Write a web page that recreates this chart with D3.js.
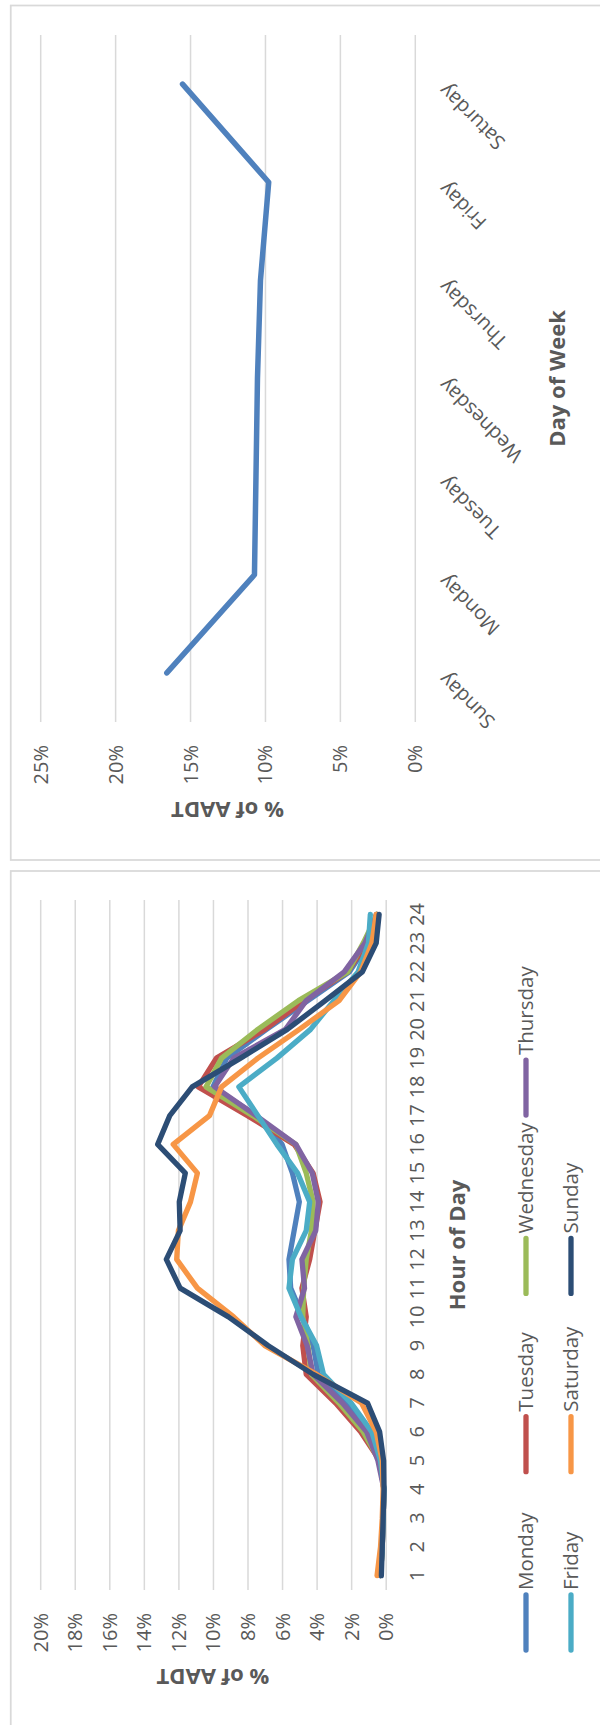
<!DOCTYPE html>
<html>
<head>
<meta charset="utf-8">
<script src="https://cdn.jsdelivr.net/npm/d3@7"></script>
<style>
  html, body { margin: 0; padding: 0; background: #fff; }
  svg { display: block; }
  text { font-family: "Open Sans", "Noto Sans", sans-serif; fill: #595959; }
</style>
</head>
<body>
<script>
// ---- Daily share of AADT ----
const days = ["Sunday", "Monday", "Tuesday", "Wednesday", "Thursday", "Friday", "Saturday"];
const dayShare = [16.55, 10.7, 10.6, 10.5, 10.3, 9.75, 15.5];
const dayTicks = [0, 5, 10, 15, 20, 25];

// ---- Hourly share of AADT ----
const hours = ["1","2","3","4","5","6","7","8","9","10","11","12",
               "13","14","15","16","17","18","19","20","21","22","23","24"];
const hourTicks = [0, 2, 4, 6, 8, 10, 12, 14, 16, 18, 20];
const seriesNames = ["Monday", "Tuesday", "Wednesday", "Thursday", "Friday", "Saturday", "Sunday"];
const seriesColors = ["#4F81BD", "#C0504D", "#9BBB59", "#8064A2", "#4BACC6", "#F79646", "#2C4D75"];
const monday    = [0.3, 0.2, 0.15, 0.1, 0.35, 0.9, 2.3, 3.9, 4.2, 4.8, 5.5, 5.6, 5.3, 5.0, 5.4, 6.0, 7.5, 10.0, 9.2, 6.9, 4.5, 2.1, 1.0, 0.55];
const tuesday   = [0.3, 0.2, 0.15, 0.1, 0.35, 1.45, 2.9, 4.6, 4.8, 4.6, 4.85, 4.4, 4.1, 3.8, 4.2, 5.3, 8.0, 10.85, 9.8, 7.0, 4.7, 2.2, 1.1, 0.5];
const wednesday = [0.3, 0.2, 0.15, 0.1, 0.35, 1.3, 2.7, 4.3, 4.5, 4.8, 4.75, 4.6, 4.3, 4.2, 4.6, 5.2, 7.7, 10.4, 9.5, 7.4, 5.05, 2.2, 1.3, 0.5];
const thursday  = [0.35, 0.2, 0.15, 0.1, 0.45, 1.1, 2.5, 4.2, 4.55, 5.2, 4.7, 4.85, 4.05, 3.9, 4.25, 5.2, 7.5, 9.9, 8.8, 5.8, 4.6, 2.4, 1.2, 0.5];
const friday    = [0.3, 0.2, 0.15, 0.1, 0.3, 0.8, 2.0, 3.6, 4.0, 4.9, 5.6, 5.4, 4.6, 4.4, 5.1, 6.3, 7.4, 8.5, 6.3, 4.35, 3.0, 1.6, 1.0, 0.89];
const saturday  = [0.5, 0.3, 0.2, 0.15, 0.2, 0.55, 1.4, 4.0, 7.0, 8.8, 10.9, 12.1, 12.0, 11.3, 10.9, 12.3, 10.2, 9.5, 7.4, 5.0, 2.7, 1.45, 0.8, 0.55];
const sunday    = [0.25, 0.2, 0.15, 0.1, 0.12, 0.35, 1.05, 4.2, 6.8, 9.1, 11.9, 12.7, 11.9, 11.95, 11.6, 13.2, 12.5, 11.2, 8.4, 5.7, 3.5, 1.35, 0.55, 0.38];
const hourly = [monday, tuesday, wednesday, thursday, friday, saturday, sunday];

const GRID = "#D9D9D9";
const TEXT = "#595959";

const svg = d3.select("body").append("svg")
  .attr("width", 600).attr("height", 1725);

// chart frames
svg.append("rect").attr("x", 10.75).attr("y", 5.5).attr("width", 700).attr("height", 854.5)
  .attr("fill", "none").attr("stroke", GRID).attr("stroke-width", 1.75);
svg.append("rect").attr("x", 10.75).attr("y", 871).attr("width", 700).attr("height", 900)
  .attr("fill", "none").attr("stroke", GRID).attr("stroke-width", 1.75);

function styleValueAxis(g) {
  g.attr("font-size", 20).attr("font-family", null);
  g.select(".domain").remove();
  g.selectAll(".tick line").attr("stroke", GRID).attr("stroke-width", 1.5);
  g.selectAll(".tick text")
    .attr("x", 0).attr("y", 0).attr("dy", "0.35em")
    .attr("text-anchor", "end")
    .attr("fill", TEXT)
    .attr("transform", "translate(0,23) rotate(-90)");
}

// ================= Day of week chart =================
const xTop = d3.scaleLinear().domain([0, 25]).range([414.8, 40.2]);
const yTop = d3.scaleBand().domain(days).range([722, 35]);

svg.append("g")
  .attr("transform", "translate(0,722)")
  .call(d3.axisBottom(xTop).tickValues(dayTicks).tickSize(-(722 - 35)).tickFormat(d => d + "%"))
  .call(styleValueAxis);

svg.append("g")
  .attr("transform", "translate(446,0)")
  .call(d3.axisRight(yTop).tickSize(0))
  .call(g => {
    g.attr("font-size", 20).attr("font-family", null);
    g.select(".domain").remove();
    g.selectAll(".tick text")
      .attr("x", 0).attr("y", 0).attr("dy", "0.1em")
      .attr("text-anchor", "end").attr("fill", TEXT)
      .attr("transform", "rotate(-135)");
  });

const dayLine = d3.line()
  .x(d => xTop(d.v))
  .y(d => yTop(d.day) + yTop.bandwidth() / 2);

svg.append("path")
  .datum(days.map((day, i) => ({ day, v: dayShare[i] })))
  .attr("d", dayLine)
  .attr("fill", "none")
  .attr("stroke", "#4F81BD")
  .attr("stroke-width", 5.5)
  .attr("stroke-linejoin", "round")
  .attr("stroke-linecap", "round");

svg.append("text")
  .attr("transform", "translate(557,378.5) rotate(-90)")
  .attr("text-anchor", "middle").attr("dy", "0.35em")
  .attr("font-size", 22).attr("font-weight", "bold")
  .text("Day of Week");

svg.append("text")
  .attr("transform", `translate(${(xTop(0) + xTop(25)) / 2},810) rotate(180)`)
  .attr("text-anchor", "middle").attr("dy", "0.35em")
  .attr("font-size", 22).attr("font-weight", "bold")
  .text("% of AADT");

// ================= Hour of day chart =================
const xBot = d3.scaleLinear().domain([0, 20]).range([385.7, 40.2]);
const yBot = d3.scaleBand().domain(hours).range([1590, 900]);

svg.append("g")
  .attr("transform", "translate(0,1590)")
  .call(d3.axisBottom(xBot).tickValues(hourTicks).tickSize(-(1590 - 900)).tickFormat(d => d + "%"))
  .call(styleValueAxis);

svg.append("g")
  .attr("transform", "translate(417,0)")
  .call(d3.axisRight(yBot).tickSize(0))
  .call(g => {
    g.attr("font-size", 20).attr("font-family", null);
    g.select(".domain").remove();
    g.selectAll(".tick text")
      .attr("x", 0).attr("y", 0).attr("dy", "0.35em")
      .attr("text-anchor", "middle").attr("fill", TEXT)
      .attr("transform", "rotate(-90)");
  });

const hourLine = d3.line()
  .x(d => xBot(d.v))
  .y(d => yBot(d.h) + yBot.bandwidth() / 2);

svg.append("g").selectAll("path")
  .data(hourly.map((vals, s) => ({ s, pts: hours.map((h, i) => ({ h, v: vals[i] })) })))
  .join("path")
  .attr("d", d => hourLine(d.pts))
  .attr("fill", "none")
  .attr("stroke", d => seriesColors[d.s])
  .attr("stroke-width", 5.3)
  .attr("stroke-linejoin", "round")
  .attr("stroke-linecap", "round");

svg.append("text")
  .attr("transform", `translate(457,${(yBot.range()[0] + yBot.range()[1]) / 2}) rotate(-90)`)
  .attr("text-anchor", "middle").attr("dy", "0.35em")
  .attr("font-size", 22).attr("font-weight", "bold")
  .text("Hour of Day");

svg.append("text")
  .attr("transform", `translate(${(xBot(0) + xBot(20)) / 2},1677) rotate(180)`)
  .attr("text-anchor", "middle").attr("dy", "0.35em")
  .attr("font-size", 22).attr("font-weight", "bold")
  .text("% of AADT");

// legend: two columns of entries, read bottom to top
const legendCols = [526, 571];
const legendStep = 178.3;
const legend = svg.append("g").selectAll("g")
  .data(seriesNames.map((name, i) => ({ name, i, col: Math.floor(i / 4), pos: i % 4 })))
  .join("g")
  .attr("transform", d => `translate(${legendCols[d.col]},${1650 - d.pos * legendStep})`);
legend.append("line")
  .attr("x1", 0).attr("x2", 0).attr("y1", 0).attr("y2", -55)
  .attr("stroke", d => seriesColors[d.i])
  .attr("stroke-width", 5.3)
  .attr("stroke-linecap", "round");
legend.append("text")
  .attr("transform", "translate(0,-60) rotate(-90)")
  .attr("dy", "0.35em")
  .attr("font-size", 20.5)
  .text(d => d.name);
</script>
</body>
</html>
